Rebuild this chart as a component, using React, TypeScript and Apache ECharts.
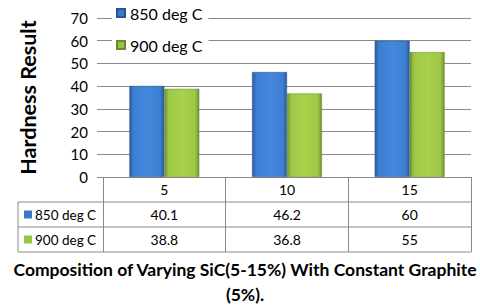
import React, { useEffect, useRef } from "react";
import * as echarts from "echarts";

const categories = ["5", "10", "15"];
const seriesNames = ["850 deg C", "900 deg C"];
const values850 = [40.1, 46.2, 60];
const values900 = [38.8, 36.8, 55];
const yTicks = { min: 0, max: 70, interval: 10 };

const FONT = "Lato";
const GRID = { left: 103, right: 9, top: 18, bottom: 131 };
const ROW_H = 25;
const TABLE_LEFT = 18;
const LINE_COLOR = "#8a8a8a";

const blueGrad = () =>
  new echarts.graphic.LinearGradient(0, 0, 1, 0, [
    { offset: 0, color: "#2c5c9c" },
    { offset: 0.12, color: "#3d7fd2" },
    { offset: 0.5, color: "#4288dc" },
    { offset: 0.88, color: "#3d7fd2" },
    { offset: 1, color: "#2c5c9c" },
  ]);
const greenGrad = () =>
  new echarts.graphic.LinearGradient(0, 0, 1, 0, [
    { offset: 0, color: "#6f9132" },
    { offset: 0.12, color: "#9ec845" },
    { offset: 0.5, color: "#a8d24c" },
    { offset: 0.88, color: "#9ec845" },
    { offset: 1, color: "#6f9132" },
  ]);
const swatch = ["#3a78c8", "#98c444"];

export default function App() {
  const ref = useRef<HTMLDivElement>(null);
  useEffect(() => {
    if (!ref.current) return;
    const chart = echarts.init(ref.current, null, { renderer: "svg" });
    const W = 480;
    const H = 308;
    const axisY = H - GRID.bottom;
    chart.setOption({
      animation: false,
      backgroundColor: "#ffffff",
      textStyle: { fontFamily: FONT },
      title: {
        text: "Composition of Varying SiC(5-15%) With Constant Graphite\n(5%).",
        left: 245,
        top: 257,
        padding: 0,
        textAlign: "center",
        textStyle: {
          fontFamily: FONT,
          fontWeight: "bold",
          fontSize: 17.5,
          color: "#000",
          lineHeight: 25,
        },
      },
      legend: {
        orient: "vertical",
        left: 112,
        top: 2,
        itemWidth: 8,
        itemHeight: 8,
        itemGap: 16,
        backgroundColor: "#ffffff",
        padding: [3, 6, 3, 4],
        icon: "rect",
        textStyle: { fontFamily: FONT, fontSize: 16, color: "#000" },
        data: [
          { name: seriesNames[0], itemStyle: { color: swatch[0] } },
          { name: seriesNames[1], itemStyle: { color: swatch[1] } },
        ],
      },
      grid: { ...GRID, containLabel: false },
      xAxis: {
        type: "category",
        data: categories,
        axisLine: { show: true, lineStyle: { color: LINE_COLOR } },
        axisTick: {
          show: true,
          length: ROW_H * 3,
          lineStyle: { color: LINE_COLOR },
        },
        axisLabel: {
          margin: 5,
          fontFamily: FONT,
          fontSize: 14,
          color: "#000",
        },
      },
      yAxis: {
        type: "value",
        min: yTicks.min,
        max: yTicks.max,
        interval: yTicks.interval,
        name: "Hardness Result",
        nameLocation: "middle",
        nameGap: 64,
        nameTextStyle: {
          fontFamily: FONT,
          fontWeight: "bold",
          fontSize: 21.5,
          color: "#000",
        },
        axisLine: { show: false },
        axisTick: { show: true, length: 6, lineStyle: { color: LINE_COLOR } },
        axisLabel: {
          margin: 15,
          fontFamily: FONT,
          fontSize: 15,
          color: "#000",
        },
        splitLine: { show: true, lineStyle: { color: LINE_COLOR } },
      },
      series: [
        {
          name: seriesNames[0],
          type: "bar",
          data: values850,
          barGap: "0%",
          barCategoryGap: "43%",
          itemStyle: { color: blueGrad(), borderColor: "#2a5590", borderWidth: 0.5 },
        },
        {
          name: seriesNames[1],
          type: "bar",
          data: values900,
          barGap: "0%",
          barCategoryGap: "43%",
          itemStyle: { color: greenGrad(), borderColor: "#6a8a30", borderWidth: 0.5 },
        },
      ],
    });

    // Build the data table below the axis from the same arrays.
    const centers = categories.map((_, i) => {
      const p = chart.convertToPixel({ xAxisIndex: 0 }, i) as unknown as number;
      return p;
    });
    const right = W - GRID.right;
    const graphics: any[] = [];
    for (let r = 1; r <= 3; r++) {
      graphics.push({
        type: "line",
        shape: { x1: TABLE_LEFT, y1: axisY + ROW_H * r, x2: right, y2: axisY + ROW_H * r },
        style: { stroke: LINE_COLOR, lineWidth: 1 },
      });
    }
    graphics.push({
      type: "line",
      shape: { x1: TABLE_LEFT, y1: axisY + ROW_H, x2: TABLE_LEFT, y2: axisY + ROW_H * 3 },
      style: { stroke: LINE_COLOR, lineWidth: 1 },
    });
    const rows = [values850, values900];
    rows.forEach((vals, r) => {
      const cy = axisY + ROW_H * (r + 1) + ROW_H / 2;
      graphics.push({
        type: "rect",
        shape: { x: 24, y: cy - 4, width: 8, height: 8 },
        style: { fill: swatch[r] },
      });
      graphics.push({
        type: "text",
        x: 35,
        y: cy,
        style: {
          text: seriesNames[r],
          fontFamily: FONT,
          fontSize: 13.5,
          fill: "#000",
          verticalAlign: "middle",
          align: "left",
        },
      });
      vals.forEach((v, i) => {
        graphics.push({
          type: "text",
          x: centers[i],
          y: cy,
          style: {
            text: String(v),
            fontFamily: FONT,
            fontSize: 14,
            fill: "#000",
            align: "center",
            verticalAlign: "middle",
          },
        });
      });
    });
    chart.setOption({ graphic: graphics });
    return () => chart.dispose();
  }, []);
  return (
    <div
      ref={ref}
      style={{ position: "fixed", left: 0, top: 0, width: 480, height: 308 }}
    />
  );
}
